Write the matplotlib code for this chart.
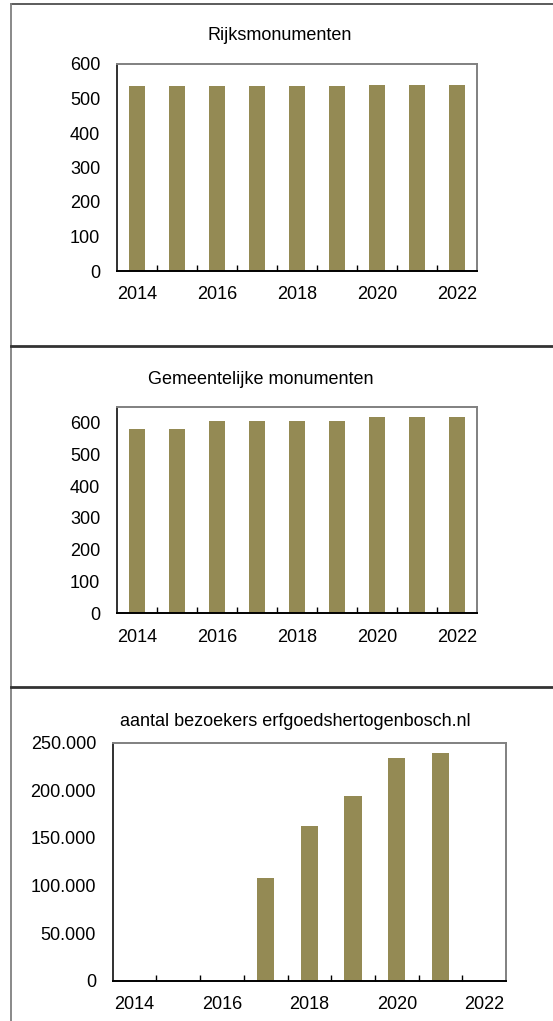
import matplotlib
matplotlib.use("Agg")
import matplotlib.pyplot as plt
from matplotlib.lines import Line2D
from matplotlib.ticker import FuncFormatter, FixedLocator
import numpy as np

plt.rcParams['font.family'] = ['Liberation Sans', 'DejaVu Sans']

# data
years = [2014, 2015, 2016, 2017, 2018, 2019, 2020, 2021, 2022]
rijks = [536, 536, 536, 536, 536, 536, 538, 538, 538]
gemeente = [580, 580, 606, 606, 606, 606, 617, 619, 619]
bezoekers = [0, 0, 0, 108000, 163000, 194000, 234000, 239000, 0]

titles = ["Rijksmonumenten", "Gemeentelijke monumenten",
          "aantal bezoekers erfgoedshertogenbosch.nl"]
ymaxes = [600, 650, 250000]
ytops = [600, 600, 250000]
ysteps = [100, 100, 50000]

W, H = 553, 1021
fig = plt.figure(figsize=(W / 100, H / 100), dpi=100)

BAR = "#948A54"
FS = 13

def px_axes(left, top, right, bottom):
    return fig.add_axes([left / W, 1 - bottom / H, (right - left) / W, (bottom - top) / H])

def nl_fmt(v, pos):
    return f"{int(round(v)):,}".replace(",", ".")

# pixel boxes of the three plot areas
boxes = [(117, 64, 477, 271), (117, 406.7, 477, 613.3), (112.7, 742.7, 506, 980.7)]
title_pos = [(280, 35), (261, 379), (295, 721.5)]
series = [rijks, gemeente, bezoekers]

for i in range(3):
    ax = px_axes(*boxes[i])
    x = np.arange(len(years))
    ax.bar(x, series[i], width=0.4, color=BAR, zorder=2)
    ax.set_xlim(-0.5, len(years) - 0.5)
    ax.set_ylim(0, ymaxes[i])
    ax.set_yticks(np.arange(0, ytops[i] + 1, ysteps[i]))
    ax.yaxis.set_major_formatter(FuncFormatter(nl_fmt))
    ax.set_xticks(x[::2])
    ax.set_xticklabels([str(y) for y in years[::2]])
    ax.xaxis.set_minor_locator(FixedLocator(np.arange(0.5, len(years) - 1, 1)))
    ax.tick_params(axis='y', length=0, pad=12, labelsize=FS)
    ax.tick_params(axis='x', which='major', length=0, pad=11, labelsize=FS)
    ax.tick_params(axis='x', which='minor', direction='in', length=4, width=1, color='black')
    ax.spines['top'].set_color('#808080')
    ax.spines['right'].set_color('#808080')
    ax.spines['left'].set_color('#303030')
    ax.spines['bottom'].set_color('black')
    for s in ax.spines.values():
        s.set_linewidth(1.4)
    tx, ty = title_pos[i]
    fig.text(tx / W, 1 - ty / H, titles[i], ha='center', va='center', fontsize=FS)

# outer frame lines of the panels
def fig_line(x0, y0, x1, y1, color, lw):
    fig.add_artist(Line2D([x0 / W, x1 / W], [1 - y0 / H, 1 - y1 / H],
                          color=color, linewidth=lw, transform=fig.transFigure))

fig_line(11, 4, W, 4, '#404040', 1.2)
fig_line(11, 4, 11, H, '#808080', 1.3)
fig_line(11, 345.5, W, 345.5, '#333333', 2)
fig_line(11, 687, W, 687, '#333333', 2)

fig.savefig("out.png", dpi=100)
